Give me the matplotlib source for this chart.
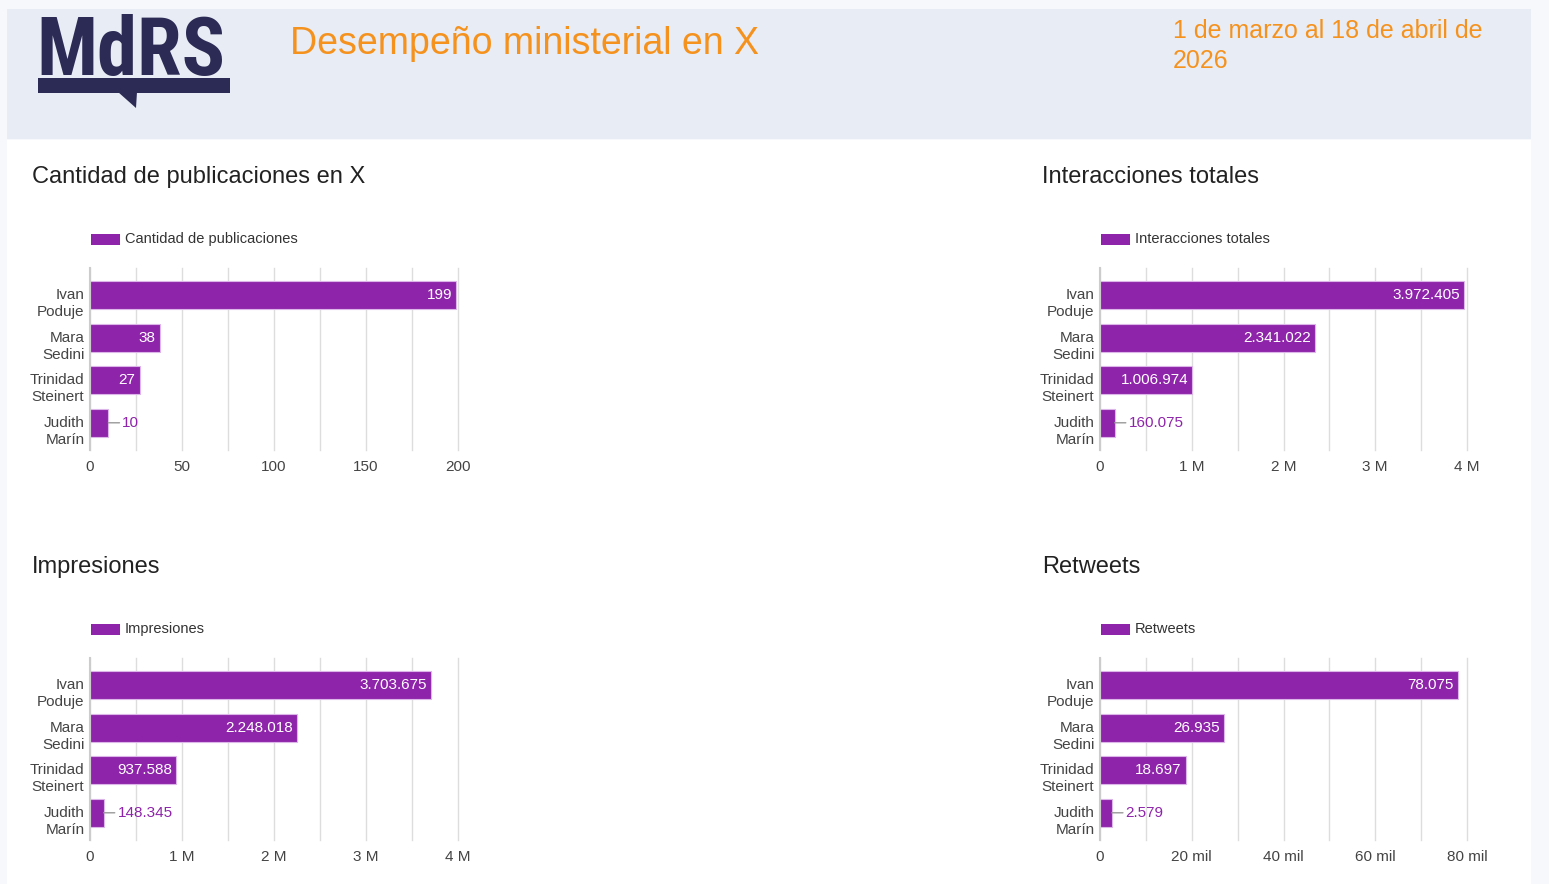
import matplotlib
matplotlib.use("Agg")
import matplotlib.pyplot as plt
from matplotlib.patches import Rectangle, Polygon
from matplotlib.ticker import MultipleLocator, FuncFormatter

plt.rcParams['font.family'] = ['Liberation Sans', 'DejaVu Sans']

W, H = 1549, 884

names = ["Ivan\nPoduje", "Mara\nSedini", "Trinidad\nSteinert", "Judith\nMarín"]

publicaciones = [199, 38, 27, 10]
interacciones = [3972405, 2341022, 1006974, 160075]
impresiones = [3703675, 2248018, 937588, 148345]
retweets = [78075, 26935, 18697, 2579]

titles = ["Cantidad de publicaciones en X", "Interacciones totales",
          "Impresiones", "Retweets"]
legends = ["Cantidad de publicaciones", "Interacciones totales",
           "Impresiones", "Retweets"]

PURPLE = "#8e24aa"
ORANGE = "#f5921e"
NAVY = "#2c2b55"


def fx(x):
    return x / W


def fy(y):
    return 1 - y / H


def dots(v):
    return f"{v:,}".replace(",", ".")


def fmt_m(x, pos):
    return "0" if x == 0 else f"{x / 1e6:.0f} M"


def fmt_mil(x, pos):
    return "0" if x == 0 else f"{x / 1e3:.0f} mil"


fig = plt.figure(figsize=(W / 100, H / 100), dpi=100)
fig.patch.set_facecolor("#f7f8fc")

# white panel and header band
fig.add_artist(Rectangle((fx(7), 0), fx(1524), fy(140), transform=fig.transFigure,
                         facecolor="white", edgecolor="none", zorder=0))
fig.add_artist(Rectangle((fx(7), fy(139)), fx(1524), 130 / H, transform=fig.transFigure,
                         facecolor="#e8ecf5", edgecolor="none", zorder=0))

# logo
logo = fig.text(fx(36), fy(75), "MdRS", fontsize=58, fontweight="heavy",
                family=["Liberation Sans Narrow", "Roboto Condensed",
                        "DejaVu Sans Condensed", "DejaVu Sans"],
                fontstretch="condensed", color=NAVY, ha="left", va="baseline")
fig.canvas.draw()
bb = logo.get_window_extent()
logo.set_fontsize(58 * min(204 / bb.width, 1.0))
fig.add_artist(Rectangle((fx(38), fy(93)), fx(192), 15 / H, transform=fig.transFigure,
                         facecolor=NAVY, edgecolor="none"))
fig.add_artist(Polygon([(fx(118), fy(92)), (fx(137), fy(92)), (fx(136), fy(108))],
                       transform=fig.transFigure, facecolor=NAVY, edgecolor="none"))

fig.text(fx(290), fy(44), "Desempeño ministerial en X", fontsize=27, color=ORANGE,
         ha="left", va="center")
fig.text(fx(1173), fy(19), "1 de marzo al 18 de abril de\n2026", fontsize=18,
         color=ORANGE, ha="left", va="top", linespacing=1.3)

panels = [
    (publicaciones, 90, 458, 0, 200, 50, 25, None),
    (interacciones, 1100, 1467, 0, 4e6, 1e6, 5e5, fmt_m),
    (impresiones, 90, 458, 390, 4e6, 1e6, 5e5, fmt_m),
    (retweets, 1100, 1467, 390, 80000, 20000, 10000, fmt_mil),
]

for k, (vals, x0, x1, dy, xmax, major, minor, fmt) in enumerate(panels):
    top, bottom = 268 + dy, 450 + dy
    ax = fig.add_axes([fx(x0), fy(bottom), (x1 - x0) / W, (bottom - top) / H])
    ax.set_facecolor("none")
    ypos = list(range(len(vals)))
    ax.barh(ypos, vals, height=0.66, color=PURPLE, edgecolor="#dcb6e8",
            linewidth=0.8, zorder=3)
    ax.set_xlim(0, xmax)
    ax.set_ylim(3.64, -0.64)
    ax.xaxis.set_major_locator(MultipleLocator(major))
    ax.xaxis.set_minor_locator(MultipleLocator(minor))
    if fmt:
        ax.xaxis.set_major_formatter(FuncFormatter(fmt))
    ax.grid(True, axis="x", which="both", color="#dddddd", linewidth=1, zorder=0)
    for t in ax.xaxis.get_major_ticks() + ax.xaxis.get_minor_ticks():
        t.gridline.set_clip_on(False)
    # labels sit a little below the bar centre, as in the original
    ax.set_yticks([p + 0.13 for p in ypos])
    ax.set_yticklabels(names, fontsize=11, color="#444444", linespacing=1.25)
    ax.tick_params(axis="both", which="both", length=0, labelsize=11,
                   colors="#444444", pad=4)
    ax.tick_params(axis="x", pad=7)
    for s in ["top", "right", "bottom"]:
        ax.spines[s].set_visible(False)
    ax.spines["left"].set_color("#cccccc")
    ax.spines["left"].set_linewidth(1.5)
    ax.spines["left"].set_zorder(4)

    for i, v in enumerate(vals):
        if v / xmax > 0.1:
            ax.annotate(dots(v), xy=(v, i), xytext=(-3, 0), textcoords="offset points",
                        ha="right", va="center", color="white", fontsize=11, zorder=5)
        else:
            ax.annotate(dots(v), xy=(v, i), xytext=(10, 0), textcoords="offset points",
                        ha="left", va="center", color=PURPLE, fontsize=11, zorder=5,
                        arrowprops=dict(arrowstyle="-", color="#999999", lw=1,
                                        shrinkA=0, shrinkB=0))

    tx = 32 if x0 < 500 else 1042
    fig.text(fx(tx), fy(177 + dy), titles[k], fontsize=17, color="#222222",
             ha="left", va="center")
    fig.add_artist(Rectangle((fx(x0 + 1), fy(245 + dy)), 29 / W, 11 / H,
                             transform=fig.transFigure, facecolor=PURPLE,
                             edgecolor="none"))
    fig.text(fx(x0 + 35), fy(239 + dy), legends[k], fontsize=10.5, color="#333333",
             ha="left", va="center")

fig.savefig("out.png", dpi=100, facecolor=fig.get_facecolor())
